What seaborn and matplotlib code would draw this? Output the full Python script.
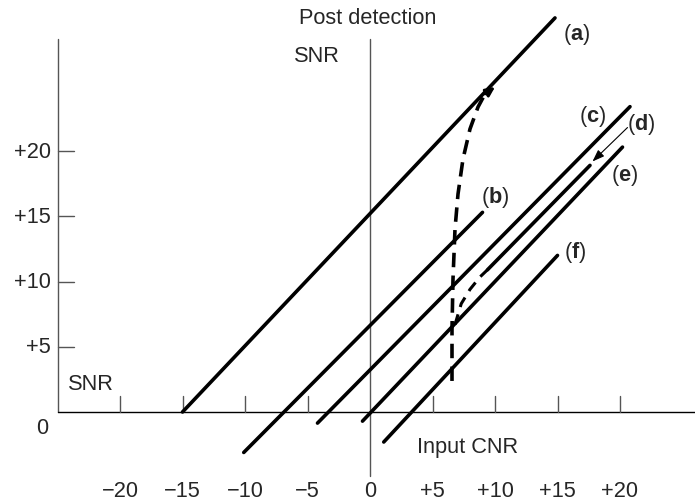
import pandas as pd
import matplotlib
matplotlib.use("Agg")
import matplotlib.pyplot as plt
import seaborn as sns

# ====== DATA (dB values) ======
curve_names = ["a", "b", "c", "d", "e", "f"]
line_x0 = [-15.0, -10.1, -4.2, 9.4, -0.6, 1.1]
line_y0 = [0.0, -3.1, -0.85, 10.9, -0.7, -2.3]
line_x1 = [14.8, 9.0, 20.8, 17.6, 20.2, 15.0]
line_y1 = [30.2, 15.3, 23.4, 18.9, 20.3, 12.0]

# threshold curve (dashed) climbing to (a)
thr_x = [6.56, 6.56, 6.64, 6.80, 7.04, 7.44, 8.00, 8.64, 9.20]
thr_y = [2.38, 6.36, 10.19, 14.02, 16.70, 19.39, 21.69, 23.37, 24.37]
thr_tip = (10.0, 24.9)

# dashed branch into (d)
br_x = [6.8, 7.3, 8.0, 8.8, 9.4]
br_y = [6.7, 8.3, 9.4, 10.35, 10.9]

x_ticks = [-20, -15, -10, -5, 0, 5, 10, 15, 20]
x_tick_labels = ["\u221220", "\u221215", "\u221210", "\u22125", "0", "+5", "+10", "+15", "+20"]
y_ticks = [5, 10, 15, 20]
y_tick_labels = ["+5", "+10", "+15", "+20"]

label_x = [16.5, 10.0, 17.8, 21.7, 20.4, 16.4]
label_y = [29.0, 16.5, 22.7, 22.1, 18.2, 12.3]

# ====== STYLE ======
sns.set_theme(style="white")
plt.rcParams["font.family"] = ["Liberation Sans", "DejaVu Sans"]
plt.rcParams["mathtext.fontset"] = "custom"
plt.rcParams["mathtext.rm"] = "Liberation Sans"
plt.rcParams["mathtext.bf"] = "Liberation Sans:bold"
FS = 15.7

fig = plt.figure(figsize=(6.95, 5.02), dpi=100)
ax = fig.add_axes([0, 0, 1, 1])
ax.set_xlim(-29.6, 26.0)
ax.set_ylim(-6.82, 31.65)
ax.axis("off")

# ====== AXES drawn by hand ======
y_axis_x = -25.0
top = 28.58
ax.plot([y_axis_x, y_axis_x], [0, top], color="#555555", lw=1.0)
ax.plot([0, 0], [-4.9, top], color="#555555", lw=1.0)
ax.plot([y_axis_x, 26.0], [0, 0], color="black", lw=1.0)
for t in x_ticks:
    if t != 0:
        ax.plot([t, t], [0, 1.23], color="#555555", lw=1.0)
for t in y_ticks:
    ax.plot([y_axis_x, y_axis_x + 1.28], [t, t], color="#555555", lw=1.0)

for t, lab in zip(x_ticks, x_tick_labels):
    ax.text(t, -5.98, lab, ha="center", va="center", fontsize=FS)
for t, lab in zip(y_ticks, y_tick_labels):
    ax.text(y_axis_x - 0.55, t, lab, ha="right", va="center", fontsize=FS)
ax.text(-26.2, -1.15, "0", ha="center", va="center", fontsize=FS)

ax.text(-0.15, 30.2, "Post detection", ha="center", va="center", fontsize=FS)
ax.text(-4.25, 27.3, "SNR", ha="center", va="center", fontsize=FS)
ax.text(-22.3, 2.15, "SNR", ha="center", va="center", fontsize=FS)
ax.text(7.8, -2.65, "Input CNR", ha="center", va="center", fontsize=FS)

# ====== CURVES ======
rows = []
for name, x0, y0, x1, y1 in zip(curve_names, line_x0, line_y0, line_x1, line_y1):
    rows.append({"curve": name, "x": x0, "y": y0})
    rows.append({"curve": name, "x": x1, "y": y1})
solid_df = pd.DataFrame(rows)
sns.lineplot(data=solid_df, x="x", y="y", units="curve", estimator=None,
             sort=False, color="black", lw=2.6, ax=ax, legend=False)

thr_df = pd.DataFrame({"x": thr_x, "y": thr_y})
sns.lineplot(data=thr_df, x="x", y="y", estimator=None, sort=False,
             color="black", lw=2.6, linestyle=(0, (4, 2.3)), ax=ax)
ax.annotate("", xy=thr_tip, xytext=(thr_x[-1], thr_y[-1]),
            arrowprops=dict(arrowstyle="-|>,head_length=0.45,head_width=0.22",
                            color="black", lw=2.0, shrinkA=0, shrinkB=0))

br_df = pd.DataFrame({"x": br_x, "y": br_y})
sns.lineplot(data=br_df, x="x", y="y", estimator=None, sort=False,
             color="black", lw=2.2, linestyle=(0, (3.5, 2.5)), ax=ax)

# arrow from (d) label
ax.annotate("", xy=(17.8, 19.2), xytext=(20.6, 21.8),
            arrowprops=dict(arrowstyle="-|>,head_length=0.6,head_width=0.22",
                            color="black", lw=0.8, shrinkA=0, shrinkB=0))

for name, lx, ly in zip(curve_names, label_x, label_y):
    ax.text(lx, ly, r"$\mathrm{(}\mathbf{%s}\mathrm{)}$" % name,
            ha="center", va="center", fontsize=FS)

fig.savefig("out.png", dpi=100)
